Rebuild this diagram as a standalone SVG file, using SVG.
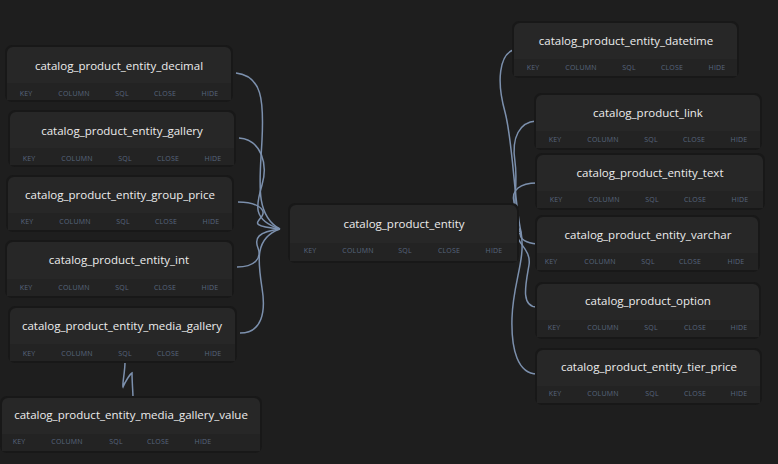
<svg xmlns="http://www.w3.org/2000/svg" width="778" height="464" viewBox="0 0 778 464">
<defs>
<style>
.bg{fill:#1e1e1e}
.shadow{fill:#181818}
.body{fill:#272727}
.foot{fill:#232323}
.title{font-family:"Open Sans","DejaVu Sans",sans-serif;font-size:11.5px;fill:#ececec;text-anchor:middle}
.lbl{font-family:"Open Sans","DejaVu Sans",sans-serif;font-size:7px;fill:#58667e;text-anchor:middle;letter-spacing:0.2px}
.edge{fill:none;stroke:#7c90ad;stroke-width:1.5}
</style>
</defs>
<rect class="bg" x="0" y="0" width="778" height="464"/>

<g id="connectors">
<path class="edge" d="M236,73 C262,76 264,100 262,140 C260,180 254,215 280,229"/>
<path class="edge" d="M239,138 C262,140 268,165 262,185 C256,205 252,220 280,229"/>
<path class="edge" d="M238,202 C258,202 266,210 262,216 C257,223 250,226 280,229"/>
<path class="edge" d="M237,267 C255,267 262,258 258,248 C254,238 258,232 280,229"/>
<path class="edge" d="M240,333 C262,333 266,312 262,288 C258,262 254,238 280,229"/>
<path class="edge" d="M513,50 C500,55 496,80 505,112 C513,142 514,200 521,232"/>
<path class="edge" d="M536,121 C520,122 511,137 515,162 C519,190 509,215 521,232"/>
<path class="edge" d="M537,183 C520,183 511,190 514,202 C517,216 504,226 521,232"/>
<path class="edge" d="M537,244 C528,243 518,240 521,232"/>
<path class="edge" d="M537,307 C520,307 526,283 529,265 C532,247 510,240 521,232"/>
<path class="edge" d="M537,374 C518,374 511,350 512,318 C513,282 526,260 521,232"/>
<path class="edge" d="M125,362 C125,372 122,385 123,387 C125,382 130,374 132,373 C132,382 133,392 133,398"/>
</g>

<g id="catalog_product_entity_decimal" transform="translate(7,47)">
<rect class="shadow" x="-2" y="-2" width="228" height="57" rx="7"/>
<rect class="body" x="0" y="0" width="224" height="53" rx="6"/>
<rect class="foot" x="0" y="36" width="224" height="17" rx="0"/>
<text class="title" x="112" y="23">catalog_product_entity_decimal</text>
<text class="lbl" x="19" y="49">KEY</text><text class="lbl" x="67" y="49">COLUMN</text><text class="lbl" x="115" y="49">SQL</text><text class="lbl" x="158" y="49">CLOSE</text><text class="lbl" x="203" y="49">HIDE</text>
</g>

<g id="catalog_product_entity_gallery" transform="translate(10,112)">
<rect class="shadow" x="-2" y="-2" width="228" height="57" rx="7"/>
<rect class="body" x="0" y="0" width="224" height="53" rx="6"/>
<rect class="foot" x="0" y="36" width="224" height="17"/>
<text class="title" x="112" y="23">catalog_product_entity_gallery</text>
<text class="lbl" x="19" y="49">KEY</text><text class="lbl" x="67" y="49">COLUMN</text><text class="lbl" x="115" y="49">SQL</text><text class="lbl" x="158" y="49">CLOSE</text><text class="lbl" x="203" y="49">HIDE</text>
</g>

<g id="catalog_product_entity_group_price" transform="translate(8,177)">
<rect class="shadow" x="-2" y="-2" width="228" height="57" rx="7"/>
<rect class="body" x="0" y="0" width="224" height="53" rx="6"/>
<rect class="foot" x="0" y="36" width="224" height="17"/>
<text class="title" x="112" y="22">catalog_product_entity_group_price</text>
<text class="lbl" x="19" y="47">KEY</text><text class="lbl" x="67" y="47">COLUMN</text><text class="lbl" x="115" y="47">SQL</text><text class="lbl" x="158" y="47">CLOSE</text><text class="lbl" x="203" y="47">HIDE</text>
</g>

<g id="catalog_product_entity_int" transform="translate(7,242)">
<rect class="shadow" x="-2" y="-2" width="229" height="58" rx="7"/>
<rect class="body" x="0" y="0" width="225" height="54" rx="6"/>
<rect class="foot" x="0" y="37" width="225" height="17"/>
<text class="title" x="112" y="22">catalog_product_entity_int</text>
<text class="lbl" x="19" y="48">KEY</text><text class="lbl" x="67" y="48">COLUMN</text><text class="lbl" x="115" y="48">SQL</text><text class="lbl" x="158" y="48">CLOSE</text><text class="lbl" x="203" y="48">HIDE</text>
</g>

<g id="catalog_product_entity_media_gallery" transform="translate(10,308)">
<rect class="shadow" x="-2" y="-2" width="229" height="57" rx="7"/>
<rect class="body" x="0" y="0" width="225" height="53" rx="6"/>
<rect class="foot" x="0" y="36" width="225" height="17"/>
<text class="title" x="112" y="22">catalog_product_entity_media_gallery</text>
<text class="lbl" x="19" y="48">KEY</text><text class="lbl" x="67" y="48">COLUMN</text><text class="lbl" x="115" y="48">SQL</text><text class="lbl" x="158" y="48">CLOSE</text><text class="lbl" x="203" y="48">HIDE</text>
</g>

<g id="catalog_product_entity_media_gallery_value" transform="translate(2,398)">
<rect class="shadow" x="-2" y="-2" width="262" height="57" rx="7"/>
<rect class="body" x="0" y="0" width="258" height="53" rx="6"/>
<rect class="foot" x="0" y="36" width="258" height="17"/>
<text class="title" x="129" y="21">catalog_product_entity_media_gallery_value</text>
<text class="lbl" x="17" y="46">KEY</text><text class="lbl" x="65" y="46">COLUMN</text><text class="lbl" x="114" y="46">SQL</text><text class="lbl" x="156" y="46">CLOSE</text><text class="lbl" x="201" y="46">HIDE</text>
</g>

<g id="catalog_product_entity" transform="translate(290,205)">
<rect class="shadow" x="-2" y="-2" width="231" height="60" rx="7"/>
<rect class="body" x="0" y="0" width="227" height="56" rx="6"/>
<rect class="foot" x="0" y="38" width="227" height="18"/>
<text class="title" x="114" y="23">catalog_product_entity</text>
<text class="lbl" x="20" y="48">KEY</text><text class="lbl" x="68" y="48">COLUMN</text><text class="lbl" x="115" y="48">SQL</text><text class="lbl" x="159" y="48">CLOSE</text><text class="lbl" x="204" y="48">HIDE</text>
</g>

<g id="catalog_product_entity_datetime" transform="translate(514,23)">
<rect class="shadow" x="-2" y="-2" width="227" height="57" rx="7"/>
<rect class="body" x="0" y="0" width="223" height="53" rx="6"/>
<rect class="foot" x="0" y="36" width="223" height="17"/>
<text class="title" x="112" y="22">catalog_product_entity_datetime</text>
<text class="lbl" x="19" y="47">KEY</text><text class="lbl" x="67" y="47">COLUMN</text><text class="lbl" x="115" y="47">SQL</text><text class="lbl" x="158" y="47">CLOSE</text><text class="lbl" x="203" y="47">HIDE</text>
</g>

<g id="catalog_product_link" transform="translate(536,95)">
<rect class="shadow" x="-2" y="-2" width="228" height="57" rx="7"/>
<rect class="body" x="0" y="0" width="224" height="53" rx="6"/>
<rect class="foot" x="0" y="36" width="224" height="17"/>
<text class="title" x="112" y="22">catalog_product_link</text>
<text class="lbl" x="19" y="47">KEY</text><text class="lbl" x="67" y="47">COLUMN</text><text class="lbl" x="115" y="47">SQL</text><text class="lbl" x="158" y="47">CLOSE</text><text class="lbl" x="203" y="47">HIDE</text>
</g>

<g id="catalog_product_entity_text" transform="translate(537,155)">
<rect class="shadow" x="-2" y="-2" width="230" height="57" rx="7"/>
<rect class="body" x="0" y="0" width="226" height="53" rx="6"/>
<rect class="foot" x="0" y="36" width="226" height="17"/>
<text class="title" x="113" y="22">catalog_product_entity_text</text>
<text class="lbl" x="19" y="47">KEY</text><text class="lbl" x="67" y="47">COLUMN</text><text class="lbl" x="115" y="47">SQL</text><text class="lbl" x="158" y="47">CLOSE</text><text class="lbl" x="203" y="47">HIDE</text>
</g>

<g id="catalog_product_entity_varchar" transform="translate(537,217)">
<rect class="shadow" x="-2" y="-2" width="225" height="57" rx="7"/>
<rect class="body" x="0" y="0" width="221" height="53" rx="6"/>
<rect class="foot" x="0" y="36" width="221" height="17"/>
<text class="title" x="111" y="22">catalog_product_entity_varchar</text>
<text class="lbl" x="14" y="47">KEY</text><text class="lbl" x="63" y="47">COLUMN</text><text class="lbl" x="111" y="47">SQL</text><text class="lbl" x="153" y="47">CLOSE</text><text class="lbl" x="199" y="47">HIDE</text>
</g>

<g id="catalog_product_option" transform="translate(537,284)">
<rect class="shadow" x="-2" y="-2" width="226" height="57" rx="7"/>
<rect class="body" x="0" y="0" width="222" height="53" rx="6"/>
<rect class="foot" x="0" y="36" width="222" height="17"/>
<text class="title" x="111" y="21">catalog_product_option</text>
<text class="lbl" x="17" y="46">KEY</text><text class="lbl" x="66" y="46">COLUMN</text><text class="lbl" x="114" y="46">SQL</text><text class="lbl" x="158" y="46">CLOSE</text><text class="lbl" x="202" y="46">HIDE</text>
</g>

<g id="catalog_product_entity_tier_price" transform="translate(537,350)">
<rect class="shadow" x="-2" y="-2" width="227" height="57" rx="7"/>
<rect class="body" x="0" y="0" width="223" height="53" rx="6"/>
<rect class="foot" x="0" y="36" width="223" height="17"/>
<text class="title" x="112" y="21">catalog_product_entity_tier_price</text>
<text class="lbl" x="18" y="46">KEY</text><text class="lbl" x="66" y="46">COLUMN</text><text class="lbl" x="115" y="46">SQL</text><text class="lbl" x="158" y="46">CLOSE</text><text class="lbl" x="202" y="46">HIDE</text>
</g>
</svg>
